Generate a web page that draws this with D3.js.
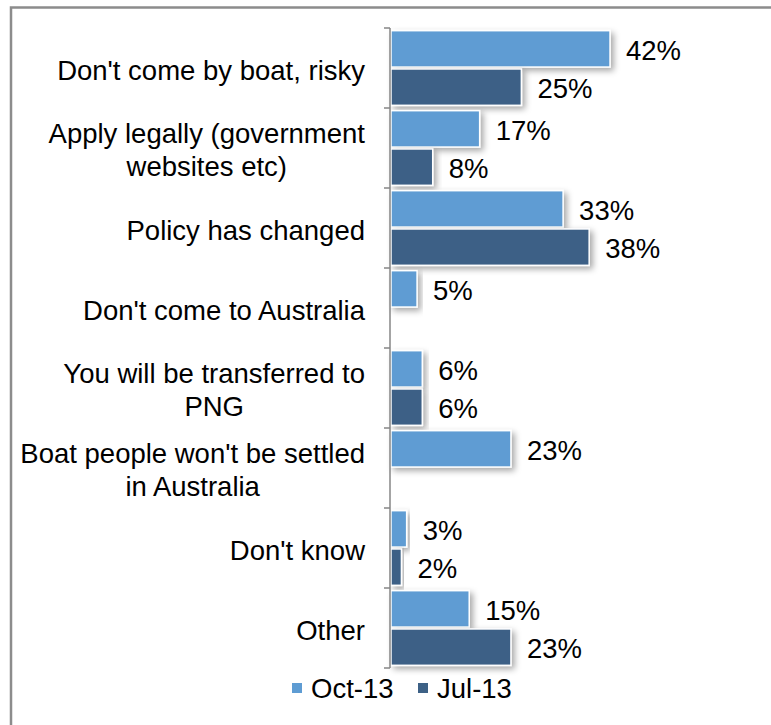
<!DOCTYPE html>
<html><head><meta charset="utf-8">
<script src="https://cdn.jsdelivr.net/npm/d3@7"></script>
<style>body{margin:0;background:#fff;}svg{display:block;font-family:"Liberation Sans",Arial,sans-serif;}</style>
</head><body><svg id="c" width="771" height="725"></svg>
<script>
const categories = [
  ["Don't come by boat, risky"],
  ["Apply legally (government","websites etc)"],
  ["Policy has changed"],
  ["Don't come to Australia"],
  ["You will be transferred to","PNG"],
  ["Boat people won't be settled","in Australia"],
  ["Don't know"],
  ["Other"]
];
const seriesNames = ["Oct-13","Jul-13"];
const oct13 = [42,17,33,5,6,23,3,15];
const jul13 = [25,8,38,null,6,null,2,23];
const colors = ["#5E9CD3","#3D6186"];
const FS = 27.5;

const svg = d3.select("#c");
const defs = svg.append("defs");
const f = defs.append("filter").attr("id","sh").attr("x","-10%").attr("y","-20%").attr("width","130%").attr("height","160%");
f.append("feDropShadow").attr("dx",3).attr("dy",3).attr("stdDeviation",3).attr("flood-color","#000").attr("flood-opacity",0.35);

// outer border
svg.append("rect").attr("x",11).attr("y",7.5).attr("width",800).attr("height",800)
  .attr("fill","none").attr("stroke","#8c8c8c").attr("stroke-width",2.5);

const keys = categories.map((d,i)=>i);
const y = d3.scaleBand().domain(keys).range([28,668]).paddingInner(0).paddingOuter(0);
const y1 = d3.scaleBand().domain([0,1]).range([0,y.bandwidth()]).paddingInner(0.05).paddingOuter(0.07);
const x = d3.scaleLinear().domain([0,70]).range([391,391+70*5.215]);

const data = keys.map(i=>({i, vals:[oct13[i], jul13[i]]}));
const g = svg.selectAll("g.cat").data(data).join("g").attr("class","cat")
  .attr("transform",d=>`translate(0,${y(d.i)})`);

const bars = g.selectAll("g.b").data(d=>d.vals.map((v,s)=>({v,s})).filter(e=>e.v!=null)).join("g").attr("class","b");
bars.append("rect")
  .attr("x",x(0)).attr("y",e=>y1(e.s))
  .attr("width",e=>x(e.v)-x(0)).attr("height",y1.bandwidth())
  .attr("fill",e=>colors[e.s]).attr("stroke","#fff").attr("stroke-width",1.5)
  .attr("filter","url(#sh)");
bars.append("text")
  .attr("x",e=>x(e.v)+16).attr("y",e=>y1(e.s)+y1.bandwidth()/2+1)
  .attr("dy","0.36em").attr("font-size",FS).attr("fill","#000")
  .text(e=>e.v+"%");

// axis
const ax = svg.append("g").attr("transform","translate(390,0)");
ax.append("line").attr("x1",0).attr("x2",0).attr("y1",28).attr("y2",668).attr("stroke","#868686").attr("stroke-width",1.5);
const bounds = keys.map(k=>y(k)).concat([668]);
ax.selectAll("line.t").data(bounds).join("line").attr("class","t")
  .attr("x1",-6).attr("x2",0).attr("y1",d=>d).attr("y2",d=>d)
  .attr("stroke","#868686").attr("stroke-width",1.5);

// category labels
const lineH = 33;
keys.forEach(i=>{
  const lines = categories[i];
  const cy = y(i)+y.bandwidth()/2 + 2;
  const tg = svg.append("g");
  const ts = lines.map((l,j)=>tg.append("text").attr("font-size",FS).attr("fill","#000")
     .attr("text-anchor","middle").attr("dy","0.36em")
     .attr("y", cy + (j-(lines.length-1)/2)*lineH).text(l));
  const w = d3.max(ts,t=>t.node().getComputedTextLength());
  ts.forEach(t=>t.attr("x",365 - w/2));
});

// legend
const leg = svg.append("g");
const lx = [292,418];
seriesNames.forEach((n,s)=>{
  leg.append("rect").attr("x",lx[s]).attr("y",683).attr("width",10).attr("height",10).attr("fill",colors[s]);
  leg.append("text").attr("x",lx[s]+19).attr("y",688).attr("dy","0.36em").attr("font-size",FS).text(n);
});
</script></body></html>
